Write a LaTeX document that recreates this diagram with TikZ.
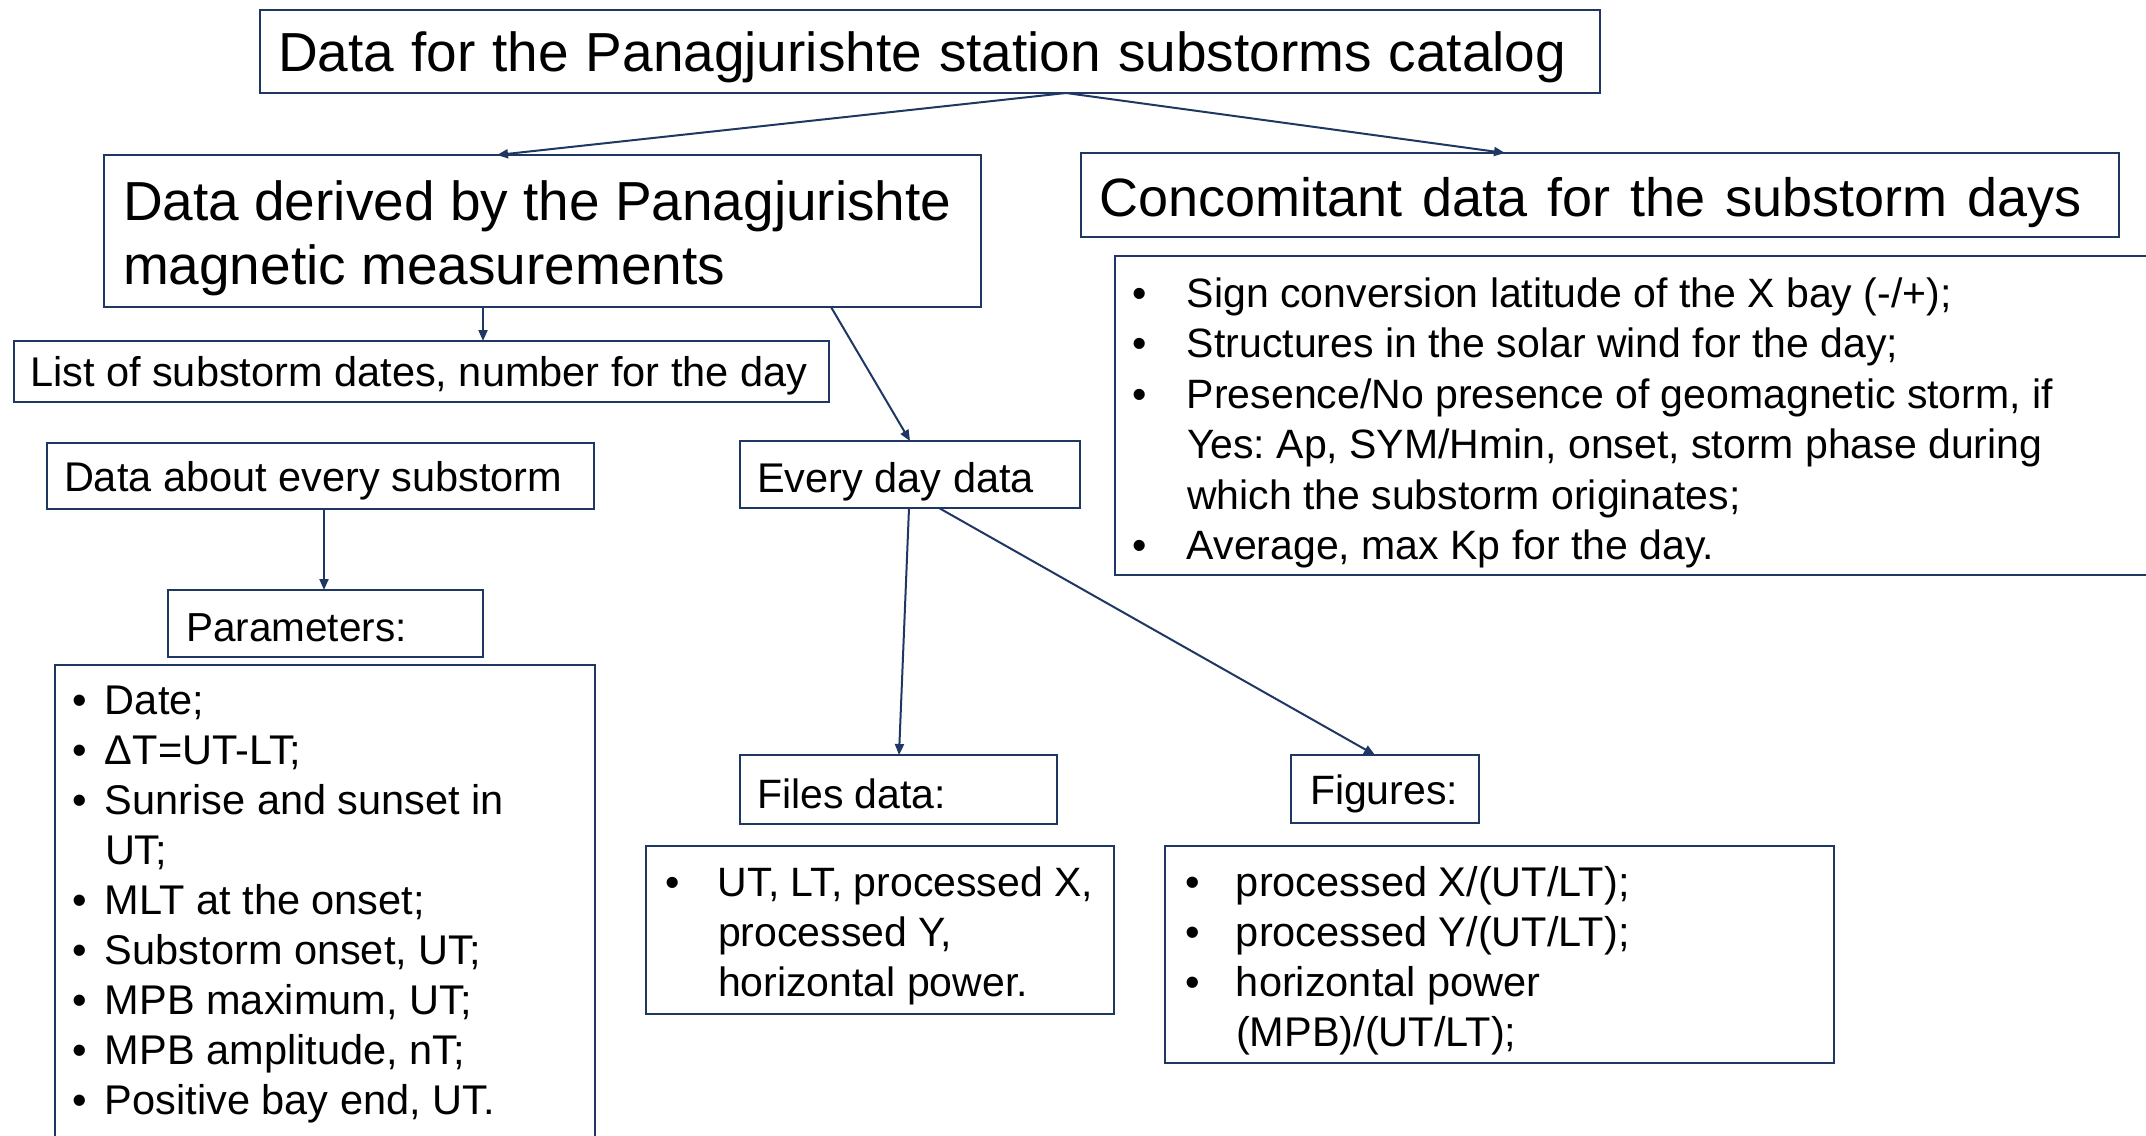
\documentclass[tikz,border=0pt]{standalone}
\usepackage{fontspec}
\setmainfont{Liberation Sans}
\usetikzlibrary{arrows.meta}
\definecolor{navy}{HTML}{1F3763}
\frenchspacing

% bullet with a fixed-width slot, and the matching hanging indent
\newcommand{\blt}[1]{\makebox[#1][l]{\textbullet}}
\newcommand{\hang}[1]{\hspace*{#1}}

\begin{document}
\begin{tikzpicture}[x=1pt,y=-1pt,
  box/.style={draw=navy, line width=2.4pt, rectangle, inner sep=0pt, outer sep=0pt},
  txt/.style={inner sep=0pt, outer sep=0pt, anchor=west, align=left, text=black},
  conn/.style={draw=navy, line width=2pt, -{Triangle[length=11pt,width=9pt]}},
]
\useasboundingbox (0,0) rectangle (2146,1135);

% ---- boxes ----
\node[box, minimum width=1340pt, minimum height=83pt]  (top)      at (930,51.5)   {};
\node[box, minimum width=877pt,  minimum height=152pt] (derived)  at (542.5,231)  {};
\node[box, minimum width=1038pt, minimum height=84pt]  (conc)     at (1600,195)   {};
\node[box, minimum width=1055pt, minimum height=319pt] (rlist)    at (1642.5,415.5) {};
\node[box, minimum width=815pt,  minimum height=61pt]  (dates)    at (421.5,371.5) {};
\node[box, minimum width=547pt,  minimum height=66pt]  (about)    at (320.5,476)  {};
\node[box, minimum width=340pt,  minimum height=67pt]  (everyday) at (910,474.5)  {};
\node[box, minimum width=315pt,  minimum height=67pt]  (params)   at (325.5,623.5) {};
\node[box, minimum width=540pt,  minimum height=472pt] (plist)    at (325,901)    {};
\node[box, minimum width=317pt,  minimum height=69pt]  (files)    at (898.5,789.5) {};
\node[box, minimum width=468pt,  minimum height=168pt] (flist)    at (880,930)    {};
\node[box, minimum width=188pt,  minimum height=68pt]  (figs)     at (1385,789)   {};
\node[box, minimum width=669pt,  minimum height=217pt] (glist)    at (1499.5,954.5) {};

% ---- texts ----
\node[txt, font=\fontsize{55}{62}\selectfont] (topT) at (278,57.5)
  {\spaceskip=17pt Data for the Panagjurishte station substorms catalog};
\node[txt, font=\fontsize{55}{64.5}\selectfont] (derivedT) at (123,238.5)
  {Data derived by the Panagjurishte\\magnetic measurements};
\node[txt, font=\fontsize{54}{60}\selectfont] (concT) at (1099,203)
  {\spaceskip=20pt Concomitant data for the substorm days};
\node[txt, font=\fontsize{41}{50.5}\selectfont] (rlistT) at (1132,423)
  {\blt{55pt}Sign conversion latitude of the X bay (-/+);\\
   \blt{55pt}Structures in the solar wind for the day;\\
   \blt{55pt}Presence/No presence of geomagnetic storm, if\\
   \hang{55pt}Yes: Ap, SYM/Hmin, onset, storm phase during\\
   \hang{55pt}which the substorm originates;\\
   \blt{55pt}Average, max Kp for the day.};
\node[txt, font=\fontsize{41.5}{48}\selectfont] (datesT) at (30,375.5)
  {List of substorm dates, number for the day};
\node[txt, font=\fontsize{41.5}{48}\selectfont] (aboutT) at (64,481)
  {Data about every substorm};
\node[txt, font=\fontsize{41.5}{48}\selectfont] (everydayT) at (757,481.5)
  {Every day data};
\node[txt, font=\fontsize{40.5}{48}\selectfont] (paramsT) at (186,627.5)
  {Parameters:};
\node[txt, font=\fontsize{41.5}{50}\selectfont] (plistT) at (72,905)
  {\blt{33pt}Date;\\
   \blt{33pt}ΔT=UT-LT;\\
   \blt{33pt}Sunrise and sunset in\\
   \hang{33pt}UT;\\
   \blt{33pt}MLT at the onset;\\
   \blt{33pt}Substorm onset, UT;\\
   \blt{33pt}MPB maximum, UT;\\
   \blt{33pt}MPB amplitude, nT;\\
   \blt{33pt}Positive bay end, UT.};
\node[txt, font=\fontsize{41}{50}\selectfont] (filesT) at (757,793.5)
  {Files data:};
\node[txt, font=\fontsize{41}{50}\selectfont] (flistT) at (665,936)
  {\blt{53pt}UT, LT, processed X,\\
   \hang{53pt}processed Y,\\
   \hang{53pt}horizontal power.};
\node[txt, font=\fontsize{41}{50}\selectfont] (figsT) at (1310,794)
  {Figures:};
\node[txt, font=\fontsize{41.5}{50}\selectfont] (glistT) at (1185,960.5)
  {\blt{51pt}processed X/(UT/LT);\\
   \blt{51pt}processed Y/(UT/LT);\\
   \blt{51pt}horizontal power\\
   \hang{51pt}(MPB)/(UT/LT);};

% ---- connectors ----
\coordinate (split) at ([xshift=136pt]top.south);
\draw[conn] (split) -- ([xshift=-45.5pt]derived.north);
\draw[conn] (split) -- ([xshift=-95pt]conc.north);
\draw[conn] ([xshift=-59.5pt]derived.south) -- ([xshift=61.5pt]dates.north);
\draw[conn] ([xshift=288.5pt]derived.south) -- (everyday.north);
\draw[conn] ([xshift=3.5pt]about.south) -- ([xshift=-1.5pt]params.north);
\draw[conn] ([xshift=-1pt]everyday.south) -- ([xshift=0.5pt]files.north);
\draw[conn] ([xshift=29pt]everyday.south) -- ([xshift=-10pt]figs.north);
\end{tikzpicture}
\end{document}
